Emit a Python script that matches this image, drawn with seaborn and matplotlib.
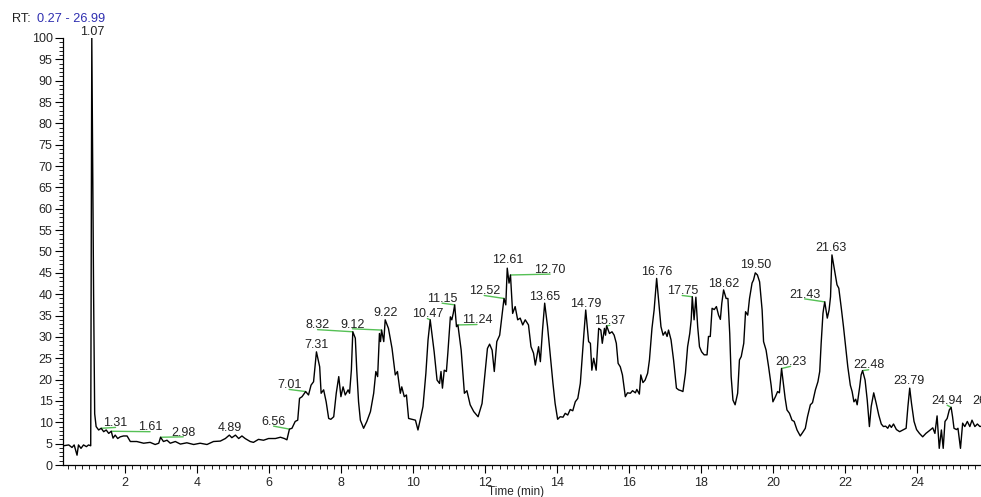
import numpy as np
import pandas as pd
import seaborn as sns
import matplotlib.pyplot as plt
from matplotlib.ticker import MultipleLocator

# chromatogram trace (time in min, relative abundance)
time = [0.28, 0.43, 0.52, 0.58, 0.66, 0.70, 0.77, 0.84, 0.92, 0.98, 1.04, 1.07, 1.12, 1.15, 1.19,
        1.26, 1.33, 1.40, 1.47, 1.54, 1.61, 1.66, 1.72, 1.79, 1.86, 1.95, 2.05, 2.09, 2.14, 2.32,
        2.51, 2.69, 2.83, 2.93, 2.98, 3.06, 3.16, 3.25, 3.39, 3.53, 3.71, 3.90, 4.08, 4.27, 4.45,
        4.64, 4.78, 4.89, 4.96, 5.06, 5.15, 5.24, 5.33, 5.47, 5.56, 5.70, 5.84, 5.98, 6.17, 6.31,
        6.42, 6.49, 6.56, 6.63, 6.72, 6.79, 6.84, 6.91, 7.01, 7.09, 7.16, 7.23, 7.28, 7.31, 7.40,
        7.44, 7.51, 7.58, 7.65, 7.71, 7.79, 7.86, 7.93, 7.99, 8.05, 8.11, 8.19, 8.23, 8.28, 8.32,
        8.39, 8.43, 8.48, 8.53, 8.62, 8.71, 8.81, 8.90, 8.96, 9.01, 9.06, 9.09, 9.12, 9.18, 9.22,
        9.31, 9.41, 9.50, 9.56, 9.64, 9.68, 9.75, 9.81, 9.87, 9.96, 10.06, 10.13, 10.19, 10.27, 10.35,
        10.41, 10.47, 10.58, 10.66, 10.73, 10.77, 10.81, 10.86, 10.92, 10.96, 11.03, 11.07, 11.11, 11.15, 11.20,
        11.24, 11.33, 11.42, 11.49, 11.58, 11.68, 11.80, 11.91, 12.00, 12.06, 12.12, 12.19, 12.25, 12.32, 12.40,
        12.46, 12.52, 12.57, 12.61, 12.66, 12.70, 12.76, 12.83, 12.90, 12.97, 13.04, 13.11, 13.20, 13.27, 13.34,
        13.39, 13.48, 13.53, 13.59, 13.65, 13.73, 13.81, 13.88, 13.94, 14.01, 14.08, 14.16, 14.22, 14.29, 14.36,
        14.43, 14.50, 14.57, 14.64, 14.68, 14.74, 14.79, 14.87, 14.92, 14.96, 15.01, 15.08, 15.15, 15.21, 15.25,
        15.31, 15.34, 15.37, 15.45, 15.52, 15.58, 15.64, 15.69, 15.75, 15.81, 15.89, 15.95, 16.03, 16.09, 16.17,
        16.21, 16.28, 16.32, 16.38, 16.44, 16.51, 16.56, 16.63, 16.69, 16.76, 16.83, 16.88, 16.94, 17.00, 17.05,
        17.09, 17.16, 17.23, 17.31, 17.37, 17.44, 17.49, 17.56, 17.62, 17.68, 17.72, 17.75, 17.80, 17.85, 17.90,
        17.95, 18.01, 18.08, 18.16, 18.20, 18.25, 18.30, 18.36, 18.42, 18.48, 18.53, 18.57, 18.62, 18.69, 18.74,
        18.79, 18.83, 18.88, 18.94, 19.01, 19.06, 19.11, 19.18, 19.23, 19.29, 19.34, 19.41, 19.45, 19.50, 19.56,
        19.62, 19.69, 19.73, 19.80, 19.87, 19.94, 19.99, 20.06, 20.12, 20.17, 20.23, 20.29, 20.33, 20.38, 20.45,
        20.52, 20.58, 20.66, 20.75, 20.83, 20.89, 20.95, 21.03, 21.09, 21.17, 21.24, 21.29, 21.33, 21.38, 21.40,
        21.43, 21.50, 21.55, 21.59, 21.63, 21.70, 21.77, 21.82, 21.89, 21.95, 22.01, 22.07, 22.14, 22.19, 22.24,
        22.29, 22.33, 22.40, 22.44, 22.48, 22.55, 22.61, 22.67, 22.72, 22.79, 22.86, 22.93, 23.00, 23.06, 23.12,
        23.18, 23.23, 23.28, 23.34, 23.42, 23.51, 23.60, 23.69, 23.74, 23.79, 23.84, 23.91, 23.98, 24.06, 24.15,
        24.24, 24.33, 24.43, 24.49, 24.55, 24.61, 24.67, 24.72, 24.77, 24.83, 24.89, 24.94, 24.98, 25.02, 25.09,
        25.13, 25.20, 25.26, 25.32, 25.39, 25.46, 25.52, 25.60, 25.67, 25.74, 25.82]
abundance = [4.5, 4.7, 4.1, 4.7, 2.3, 4.7, 3.9, 4.7, 4.3, 4.7, 4.5, 100, 40, 12, 9.0,
             8.2, 8.6, 7.8, 8.2, 7.4, 7.9, 6.3, 7.0, 6.2, 6.6, 6.8, 6.8, 6.2, 5.5, 5.5,
             5.1, 5.3, 4.8, 5.1, 6.5, 5.5, 5.8, 5.1, 5.5, 4.9, 5.2, 4.8, 5.1, 4.8, 5.5,
             5.6, 6.2, 7.0, 6.4, 7.0, 6.2, 6.8, 6.2, 5.5, 5.3, 6.0, 5.8, 6.2, 6.2, 6.5,
             6.2, 5.9, 8.4, 8.6, 10.2, 10.5, 15.6, 16.0, 17.2, 16.4, 18.7, 19.5, 23.8, 26.5, 23.0,
             16.8, 17.6, 14.8, 10.9, 10.7, 11.3, 16.8, 20.7, 16.0, 18.3, 16.4, 17.6, 16.8, 22.2, 31.2,
             29.7, 22.2, 14.8, 10.5, 8.6, 10.2, 12.5, 16.8, 21.9, 20.7, 30.8, 28.9, 31.6, 28.9, 34.0,
             32.0, 27.3, 21.1, 21.9, 16.8, 18.3, 16.0, 16.4, 10.9, 10.7, 10.5, 8.2, 10.5, 13.7, 21.5,
             29.3, 34.0, 26.5, 19.9, 19.1, 21.9, 18.0, 22.2, 21.9, 26.2, 34.7, 34.0, 35.5, 37.5, 32.4,
             32.8, 26.9, 16.8, 17.4, 14.1, 12.5, 11.3, 14.4, 22.2, 27.3, 28.3, 26.9, 21.9, 28.9, 30.4,
             34.7, 39.0, 37.5, 46.1, 42.6, 44.5, 35.5, 37.1, 34.0, 34.4, 32.8, 34.0, 32.8, 27.7, 26.2,
             23.4, 27.7, 24.2, 31.6, 37.9, 32.4, 25.4, 19.1, 14.4, 10.7, 11.3, 11.2, 12.1, 11.7, 13.0,
             12.7, 14.8, 15.6, 19.1, 23.8, 30.8, 36.3, 28.9, 28.5, 22.2, 25.0, 22.2, 32.0, 31.6, 28.5,
             32.0, 30.4, 32.6, 30.8, 31.2, 30.4, 28.5, 23.8, 23.0, 21.1, 16.0, 16.9, 16.8, 17.4, 16.9,
             17.7, 16.6, 21.1, 19.3, 19.9, 21.5, 24.6, 32.0, 36.3, 43.7, 37.1, 32.4, 30.4, 31.2, 30.1,
             31.6, 29.3, 24.6, 18.0, 17.6, 17.4, 17.2, 21.5, 27.7, 30.8, 34.0, 39.4, 34.0, 39.3, 32.4,
             27.7, 26.5, 25.8, 25.8, 30.1, 30.1, 36.7, 36.4, 37.1, 35.1, 34.1, 37.9, 41.0, 39.0, 39.0,
             30.8, 20.7, 15.2, 14.1, 16.8, 24.6, 25.4, 28.5, 35.9, 35.1, 39.0, 42.6, 43.3, 45.0, 44.5,
             42.9, 36.3, 28.9, 26.9, 23.0, 18.7, 14.8, 16.0, 17.2, 16.9, 22.6, 18.3, 15.6, 12.9, 12.1,
             10.5, 10.2, 8.2, 6.8, 7.8, 8.6, 11.3, 14.1, 14.6, 17.6, 19.5, 21.9, 28.5, 35.5, 36.7,
             38.2, 34.4, 36.3, 39.4, 49.2, 45.7, 42.2, 41.4, 36.7, 32.4, 27.7, 23.0, 18.7, 17.2, 14.8,
             15.4, 14.1, 18.3, 21.1, 22.1, 19.9, 15.2, 9.0, 13.7, 16.9, 14.4, 11.7, 9.6, 9.0, 9.1,
             8.6, 9.4, 8.8, 9.6, 8.3, 7.8, 8.2, 8.6, 13.7, 18.0, 14.4, 10.2, 8.3, 7.4, 6.6,
             7.4, 8.0, 8.7, 7.4, 11.5, 3.9, 8.2, 3.9, 10.2, 10.9, 12.9, 13.5, 11.3, 8.6, 8.3,
             8.6, 3.9, 9.8, 9.0, 10.2, 9.0, 10.5, 9.0, 9.6, 9.0, 9.2]

# peak labels: text, label x, label baseline, apex x, apex y
peak_text = ["1.07", "1.31", "1.61", "2.98", "4.89", "6.56", "7.01", "7.31", "8.32", "9.12",
             "9.22", "10.47", "11.15", "11.24", "12.52", "12.61", "12.70", "13.65", "14.79", "15.37",
             "16.76", "17.75", "18.62", "19.50", "20.23", "21.43", "21.63", "22.48", "23.79", "24.94",
             "26.02"]
label_x = [1.07, 1.73, 2.69, 3.61, 4.90, 6.12, 6.55, 7.30, 7.34, 8.31,
           9.23, 10.39, 10.80, 11.77, 11.97, 12.63, 13.80, 13.64, 14.79, 15.46,
           16.75, 17.47, 18.61, 19.50, 20.48, 20.87, 21.61, 22.65, 23.76, 24.83,
           25.97]
label_y = [100.7, 9.1, 8.1, 6.9, 8.0, 9.4, 18.0, 27.3, 32.0, 32.2,
           34.8, 34.6, 38.2, 33.2, 40.0, 47.2, 45.0, 38.6, 37.1, 33.0,
           44.5, 40.0, 41.8, 46.1, 23.4, 39.2, 50.0, 22.6, 18.9, 14.3,
           14.3]
apex_x = [1.07, 1.33, 1.61, 2.98, 4.89, 6.56, 7.01, 7.31, 8.32, 9.12,
          9.22, 10.47, 11.15, 11.24, 12.52, 12.61, 12.70, 13.65, 14.79, 15.37,
          16.76, 17.75, 18.62, 19.50, 20.23, 21.43, 21.63, 22.48, 23.79, 24.94,
          25.97]
apex_y = [100, 8.6, 7.9, 6.5, 7.0, 8.4, 17.2, 26.5, 31.2, 31.6,
          34.0, 34.0, 37.5, 32.8, 39.0, 46.1, 44.5, 37.9, 36.3, 32.6,
          43.7, 39.4, 41.0, 45.0, 22.6, 38.2, 49.2, 22.1, 18.0, 13.5,
          13.5]

df = pd.DataFrame({'time': time, 'abundance': abundance})

sns.set_style("ticks")
plt.rcParams['font.family'] = ['Liberation Sans', 'DejaVu Sans']

W, H = 981, 497
fig = plt.figure(figsize=(W / 100, H / 100), dpi=100)
ax = fig.add_axes([63 / W, 32 / H, (W - 63) / W, 427 / H])

# green connector lines first, then the trace on top
for lx, ly, px, py in zip(label_x, label_y, apex_x, apex_y):
    if abs(lx - px) > 0.05:
        ax.plot([px, lx], [py, ly - 0.3], color='#55c055', lw=1.0, clip_on=False, zorder=2)

sns.lineplot(data=df, x='time', y='abundance', color='black', linewidth=1.0,
             estimator=None, sort=False, ax=ax, zorder=3)

for txt, lx, ly in zip(peak_text, label_x, label_y):
    ax.text(lx, ly, txt, ha='center', va='baseline', fontsize=9,
            color='#222222', clip_on=False, zorder=4)

ax.set_xlim(0.27, 0.27 + (W - 63) / 36.0)
ax.set_ylim(0, 100)
ax.xaxis.set_major_locator(MultipleLocator(2))
ax.xaxis.set_minor_locator(MultipleLocator(0.2))
ax.yaxis.set_major_locator(MultipleLocator(5))
ax.yaxis.set_minor_locator(MultipleLocator(1))
ax.tick_params(which='major', length=6, width=0.8, labelsize=9, pad=1.5, color='black')
ax.tick_params(which='minor', length=3, width=0.6, color='black')
ax.tick_params(axis='x', which='major', pad=3)

sns.despine(ax=ax)
for s in ['left', 'bottom']:
    ax.spines[s].set_linewidth(0.9)
    ax.spines[s].set_color('black')

ax.set_ylabel('')
ax.set_xlabel('Time (min)', fontsize=8.5, labelpad=1)
ax.xaxis.set_label_coords((516 - 63) / (W - 63), -0.05)

fig.text(11.7 / W, 1 - 21.5 / H, 'RT:', fontsize=9.2, color='#222222', va='baseline')
fig.text(36.7 / W, 1 - 21.5 / H, '0.27 - 26.99', fontsize=9.2, color='#2e2eb0', va='baseline')

fig.savefig('out.png', dpi=100)
